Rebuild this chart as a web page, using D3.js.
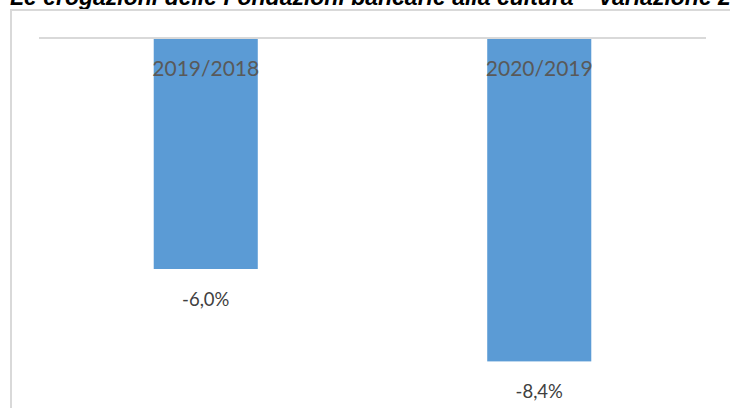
<!DOCTYPE html>
<html>
<head>
<meta charset="utf-8">
<script src="https://cdn.jsdelivr.net/npm/d3@7"></script>
<style>
  html, body { margin: 0; padding: 0; background: #fff; }
  svg { display: block; }
</style>
</head>
<body>
<svg id="chart" width="730" height="408"></svg>
<script>
// Variazione delle erogazioni alla cultura
const title = "Le erogazioni delle Fondazioni bancarie alla cultura – variazione 2018-2020";
const categories = ["2019/2018", "2020/2019"];
const values = [-6.0, -8.4];
const valueLabels = ["-6,0%", "-8,4%"];

const svg = d3.select("#chart");
const W = 730, H = 408;

// Title (partly above the visible area)
svg.append("text")
  .attr("x", 10)
  .attr("y", 4.5)
  .attr("font-family", "'Liberation Sans', Arial, sans-serif")
  .attr("font-size", 23)
  .attr("font-weight", "bold")
  .attr("font-style", "italic")
  .attr("fill", "#000")
  .text(title);

// Chart frame
svg.append("rect")
  .attr("x", 11)
  .attr("y", 10)
  .attr("width", W + 20)
  .attr("height", H + 20)
  .attr("fill", "#fff")
  .attr("stroke", "#d9d9d9")
  .attr("stroke-width", 2);

const plot = { left: 39, right: 706, top: 38, bottom: 423 };

const x = d3.scaleBand()
  .domain(categories)
  .range([plot.left, plot.right])
  .paddingInner(0.688)
  .paddingOuter(0.344);

const y = d3.scaleLinear()
  .domain([0, -10])
  .range([plot.top, plot.bottom]);

const data = categories.map((c, i) => ({ cat: c, value: values[i], label: valueLabels[i] }));

// Bars
svg.selectAll("rect.bar")
  .data(data)
  .join("rect")
  .attr("class", "bar")
  .attr("x", d => x(d.cat))
  .attr("width", x.bandwidth())
  .attr("y", d => y(Math.max(0, d.value)))
  .attr("height", d => Math.abs(y(d.value) - y(0)))
  .attr("fill", "#5b9bd5");

// Zero line
svg.append("line")
  .attr("x1", plot.left)
  .attr("x2", plot.right)
  .attr("y1", y(0))
  .attr("y2", y(0))
  .attr("stroke", "#d9d9d9")
  .attr("stroke-width", 2);

// Category labels at the top of the bars
svg.selectAll("text.cat")
  .data(data)
  .join("text")
  .attr("class", "cat")
  .attr("x", d => x(d.cat) + x.bandwidth() / 2)
  .attr("y", y(0) + 38)
  .attr("text-anchor", "middle")
  .attr("font-family", "Lato, 'Open Sans', sans-serif")
  .attr("font-size", 21)
  .attr("fill", "#595959")
  .text(d => d.cat);

// Value labels below the bar ends
svg.selectAll("text.val")
  .data(data)
  .join("text")
  .attr("class", "val")
  .attr("x", d => x(d.cat) + x.bandwidth() / 2)
  .attr("y", d => y(d.value) + 37)
  .attr("text-anchor", "middle")
  .attr("font-family", "Lato, 'Open Sans', sans-serif")
  .attr("font-size", 18.5)
  .attr("fill", "#404040")
  .text(d => d.label);
</script>
</body>
</html>
